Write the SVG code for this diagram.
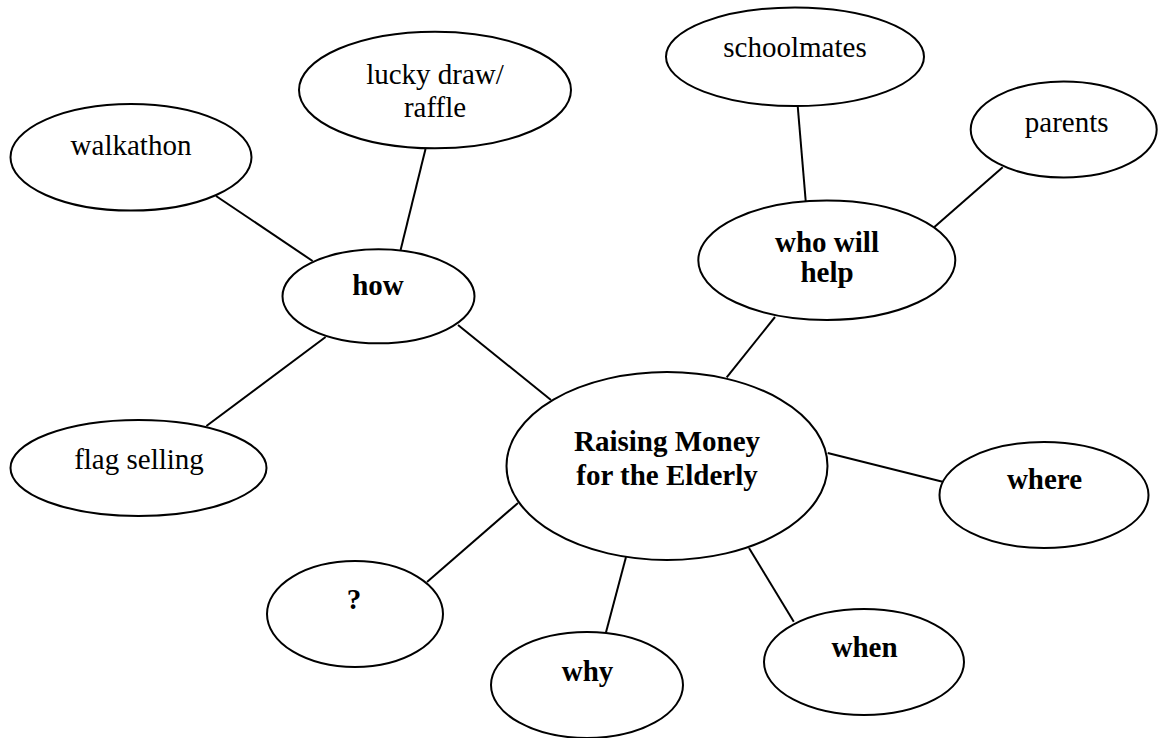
<svg xmlns="http://www.w3.org/2000/svg" width="1158" height="738" viewBox="0 0 1158 738">
<style>
.n ellipse{fill:#fff;stroke:#000;stroke-width:2}
.n text{font-family:"Liberation Serif","Times New Roman",serif;font-size:29px;fill:#000;text-anchor:middle}
.n text.b{font-weight:bold}
#connectors line{stroke:#000;stroke-width:2}
</style>
<rect width="1158" height="738" fill="#fff"/>
<g id="connectors">
<line x1="216" y1="196" x2="312.6" y2="261"/>
<line x1="425.5" y1="149" x2="400.6" y2="250"/>
<line x1="325.6" y1="337" x2="206.4" y2="426"/>
<line x1="458" y1="325" x2="551" y2="400"/>
<line x1="797.7" y1="106" x2="805.7" y2="201"/>
<line x1="1002.7" y1="167.3" x2="934.4" y2="227"/>
<line x1="775" y1="317" x2="726.7" y2="377.3"/>
<line x1="827.7" y1="453" x2="942.6" y2="481.7"/>
<line x1="518" y1="503" x2="427" y2="582"/>
<line x1="626" y1="557" x2="606" y2="632.3"/>
<line x1="749" y1="548" x2="793.8" y2="621.7"/>
</g>
<g id="walkathon" class="n"><ellipse cx="131" cy="157.3" rx="120.5" ry="53.3"/><text x="131" y="155">walkathon</text></g>
<g id="lucky" class="n"><ellipse cx="435" cy="90" rx="136" ry="58.3"/><text x="435" y="84">lucky draw/</text><text x="435" y="116.7">raffle</text></g>
<g id="schoolmates" class="n"><ellipse cx="795" cy="56.7" rx="129" ry="49.3"/><text x="795" y="57">schoolmates</text></g>
<g id="parents" class="n"><ellipse cx="1063.7" cy="129.5" rx="93" ry="48"/><text x="1066.7" y="131.7">parents</text></g>
<g id="who" class="n"><ellipse cx="826.8" cy="260.3" rx="128.5" ry="59.7"/><text class="b" x="827" y="251.7">who will</text><text class="b" x="827" y="281.7">help</text></g>
<g id="how" class="n"><ellipse cx="378.5" cy="296.3" rx="96" ry="47"/><text class="b" x="378" y="295">how</text></g>
<g id="center" class="n"><ellipse cx="667" cy="466" rx="160.5" ry="94"/><text class="b" x="667" y="451">Raising Money</text><text class="b" x="667" y="485">for the Elderly</text></g>
<g id="flag" class="n"><ellipse cx="138.5" cy="468" rx="128" ry="48"/><text x="139" y="469">flag selling</text></g>
<g id="where" class="n"><ellipse cx="1044" cy="495" rx="104.5" ry="53"/><text class="b" x="1044.5" y="489">where</text></g>
<g id="question" class="n"><ellipse cx="355" cy="614" rx="88" ry="53"/><text class="b" x="354" y="609">?</text></g>
<g id="why" class="n"><ellipse cx="587" cy="685" rx="96" ry="53"/><text class="b" x="587.5" y="681">why</text></g>
<g id="when" class="n"><ellipse cx="864" cy="662" rx="100" ry="53"/><text class="b" x="864.5" y="657">when</text></g>
</svg>
